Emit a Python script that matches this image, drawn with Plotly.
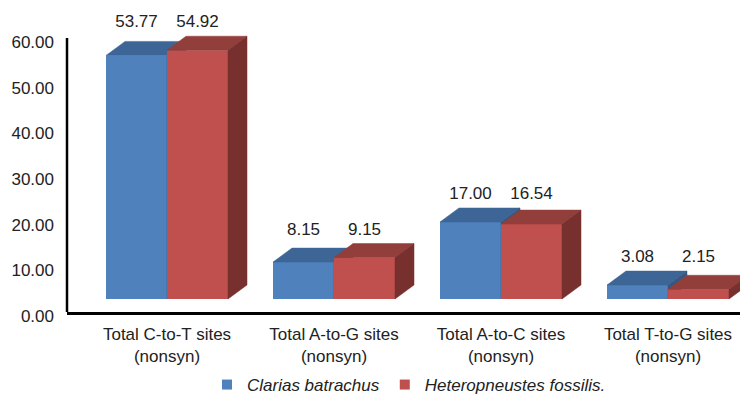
import plotly.graph_objects as go

# ---- data ----
categories = [
    "Total C-to-T sites<br>(nonsyn)",
    "Total A-to-G sites<br>(nonsyn)",
    "Total A-to-C sites<br>(nonsyn)",
    "Total T-to-G sites<br>(nonsyn)",
]
clarias = [53.77, 8.15, 17.00, 3.08]
heteropneustes = [54.92, 9.15, 16.54, 2.15]
series_names = ["Clarias batrachus", "Heteropneustes fossilis."]
y_ticks = [0, 10, 20, 30, 40, 50, 60]

# ---- styling ----
FONT = "Liberation Sans, Arial, sans-serif"
FS = 17
TXT = "#222222"
FRONT = ["#4F81BD", "#C0504D"]
TOP = ["#3D6596", "#923F3C"]
SIDE = ["#345783", "#77302D"]

W, H = 740, 397
M_L, M_R, M_T, M_B = 67, 0, 0, 85
PLOT_W = W - M_L - M_R
PLOT_H = H - M_T - M_B

STEP_PX = 167.0          # pixels between category centres
FIRST_PX = 100.0         # first category centre from left edge of plot area
PX_PER_UNIT = 4.53       # vertical scale of the bars
BASE_PX = 13.0           # bar floor above the bottom of the plot area
DEPTH_X_PX, DEPTH_Y_PX = 19.0, 14.0
FRAME_TOP_PX = 38.0      # top of the value axis line

bar_w = 61.0 / STEP_PX
dx = DEPTH_X_PX / STEP_PX
dy = DEPTH_Y_PX / PX_PER_UNIT

x_range = [-FIRST_PX / STEP_PX, (PLOT_W - FIRST_PX) / STEP_PX]
y_range = [-BASE_PX / PX_PER_UNIT, (PLOT_H - BASE_PX) / PX_PER_UNIT]
# tick scale: 0 at the bottom edge, 60 at the top of the axis line
y2_range = [0, y_ticks[-1] * PLOT_H / (PLOT_H - FRAME_TOP_PX)]

fig = go.Figure()

xs = list(range(len(categories)))
series = [clarias, heteropneustes]
# the second series sits on an overlaid copy of the value scale so that it
# is painted after (in front of) the first series' 3-D faces
series_axis = ["y", "y3"]

for s, vals in enumerate(series):
    ax = series_axis[s]
    # front faces
    fig.add_trace(go.Bar(
        x=xs, y=vals, width=bar_w, offset=-bar_w if s == 0 else 0,
        marker=dict(color=FRONT[s], line=dict(width=0)),
        name=series_names[s], legendgroup=series_names[s], showlegend=False,
        yaxis=ax, hoverinfo="skip",
    ))
    # top and right-side faces
    for i in xs:
        v = vals[i]
        x0 = i - bar_w if s == 0 else i
        x1 = x0 + bar_w
        fig.add_trace(go.Scatter(
            x=[x0, x1, x1 + dx, x0 + dx, x0], y=[v, v, v + dy, v + dy, v],
            fill="toself", fillcolor=TOP[s], mode="lines", yaxis=ax,
            line=dict(color=TOP[s], width=0.5), hoverinfo="skip", showlegend=False,
        ))
        fig.add_trace(go.Scatter(
            x=[x1, x1, x1 + dx, x1 + dx, x1], y=[0, v, v + dy, dy, 0],
            fill="toself", fillcolor=SIDE[s], mode="lines", yaxis=ax,
            line=dict(color=SIDE[s], width=0.5), hoverinfo="skip", showlegend=False,
        ))
    # legend swatch
    fig.add_trace(go.Scatter(
        x=[None], y=[None], mode="markers", yaxis=ax,
        marker=dict(symbol="square", size=10, color=FRONT[s]),
        name=series_names[s], legendgroup=series_names[s], showlegend=True,
    ))

# value labels, placed above the taller bar of each group
for s, vals in enumerate(series):
    lab_x = [i - bar_w / 2 if s == 0 else i + bar_w / 2 for i in xs]
    lab_y = [max(clarias[i], heteropneustes[i]) + dy + 2.9 for i in xs]
    fig.add_trace(go.Scatter(
        x=lab_x, y=lab_y, mode="text", text=[f"{v:.2f}" for v in vals], yaxis="y3",
        textposition="middle center", textfont=dict(family=FONT, size=FS, color=TXT),
        cliponaxis=False, hoverinfo="skip", showlegend=False,
    ))

# carrier trace for the tick axis
fig.add_trace(go.Scatter(x=[0], y=[0], yaxis="y2", mode="markers",
                         marker=dict(opacity=0), hoverinfo="skip", showlegend=False))

# vertical axis line, from 0 to the top tick
fig.add_shape(type="line", xref="paper", yref="y2", x0=0, x1=0,
              y0=y_ticks[0], y1=y_ticks[-1], line=dict(color="black", width=2.5))

fig.update_layout(
    width=W, height=H,
    margin=dict(l=M_L, r=M_R, t=M_T, b=M_B, autoexpand=False),
    paper_bgcolor="white", plot_bgcolor="white",
    barmode="overlay",
    font=dict(family=FONT, size=FS, color=TXT),
    xaxis=dict(
        range=x_range, tickvals=xs, ticktext=categories,
        showgrid=False, zeroline=False, showline=True, linecolor="black", linewidth=2.5,
        ticks="", ticklabelstandoff=5, automargin=False,
        tickfont=dict(family=FONT, size=FS, color=TXT), fixedrange=True,
    ),
    yaxis=dict(range=y_range, visible=False, fixedrange=True),
    yaxis3=dict(overlaying="y", range=y_range, visible=False, fixedrange=True),
    yaxis2=dict(
        overlaying="y", side="left", range=y2_range, automargin=False,
        tickvals=y_ticks, tickformat=".2f", showgrid=False, zeroline=False,
        showline=False, ticks="", ticklabelshift=4, ticklabelstandoff=12,
        tickfont=dict(family=FONT, size=FS, color=TXT), fixedrange=True,
    ),
    legend=dict(
        orientation="h", x=(409 - M_L) / PLOT_W, xanchor="center",
        y=(PLOT_H - 385) / PLOT_H, yanchor="middle",
        font=dict(family=FONT, size=17, color=TXT, style="italic"),
        itemwidth=30, bgcolor="rgba(0,0,0,0)",
    ),
    showlegend=True,
)

fig.write_html("out.html")
